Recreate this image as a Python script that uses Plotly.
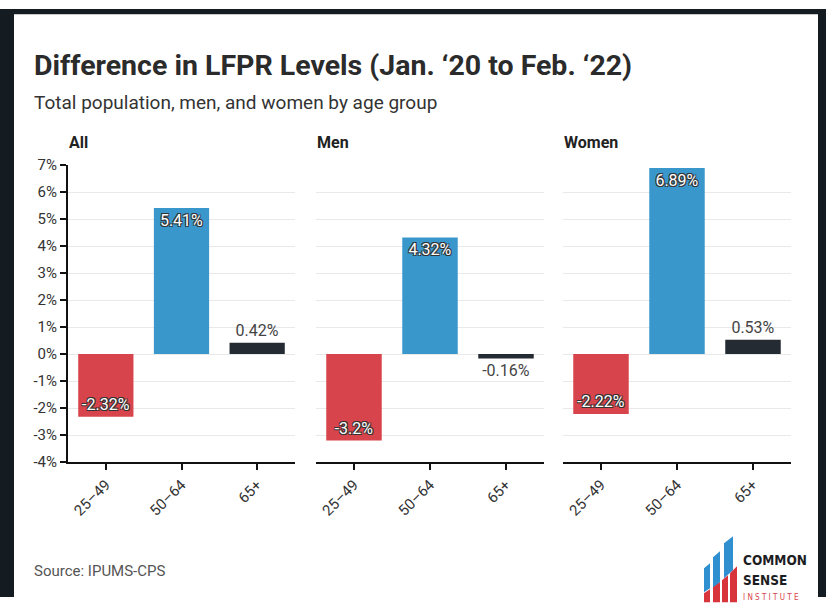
import plotly.graph_objects as go

# ---- data ----
age_groups = ["25–49", "50–64", "65+"]
panel_names = ["All", "Men", "Women"]
all_vals = [-2.32, 5.41, 0.42]
men_vals = [-3.2, 4.32, -0.16]
women_vals = [-2.22, 6.89, 0.53]
y_tick_vals = [-4, -3, -2, -1, 0, 1, 2, 3, 4, 5, 6, 7]
y_tick_text = ["-4%", "-3%", "-2%", "-1%", "0%", "1%", "2%", "3%", "4%", "5%", "6%", "7%"]
inside_flags = [[True, True, False], [True, True, False], [True, True, False]]

bar_colors = ["#d7444b", "#3a97cc", "#252b32"]
W, H = 826, 606
FONT = "Roboto, Liberation Sans, sans-serif"


def Y(y):
    # page-pixel y that lands at picture-pixel y
    return (y - 9) / 0.97


def px(x, y):
    return x / W, 1 - Y(y) / H


fig = go.Figure()

domains = [(68, 295), (316, 544), (563, 791)]
ydom = [px(0, 462)[1], px(0, 165)[1]]

series = [all_vals, men_vals, women_vals]
outline = "-1px -1px 0 #333, 1px -1px 0 #333, -1px 1px 0 #333, 1px 1px 0 #333"

for i, vals in enumerate(series):
    sfx = "" if i == 0 else str(i + 1)
    fig.add_trace(go.Bar(
        x=age_groups, y=vals,
        text=[f"{v}%" for v in vals],
        textposition=["inside" if f else "outside" for f in inside_flags[i]],
        insidetextanchor="end",
        constraintext="none",
        cliponaxis=False,
        marker=dict(color=bar_colors, line=dict(width=0)),
        insidetextfont=dict(family=FONT, size=16, color="#ffffff", shadow=outline),
        outsidetextfont=dict(family=FONT, size=16, color="#444444"),
        xaxis="x" + sfx, yaxis="y" + sfx,
        showlegend=False, hoverinfo="skip",
    ))
    d0, d1 = domains[i]
    fig.layout["xaxis" + sfx] = dict(
        domain=[d0 / W, d1 / W], anchor="y" + sfx,
        showline=True, linecolor="#111111", linewidth=2,
        ticks="outside", ticklen=6, tickwidth=1.5, tickcolor="#111111",
        tickangle=-45, tickfont=dict(family=FONT, size=15, color="#333333"),
        showgrid=False, fixedrange=True,
    )
    ycfg = dict(
        domain=ydom, anchor="x" + sfx, range=[-4, 7],
        tickvals=y_tick_vals, ticktext=y_tick_text,
        showgrid=True, gridcolor="#e9e9e9", gridwidth=1,
        zeroline=False, fixedrange=True,
    )
    if i == 0:
        ycfg.update(showline=True, linecolor="#111111", linewidth=2,
                    ticks="outside", ticklen=6, tickwidth=1.5, tickcolor="#111111",
                    tickfont=dict(family=FONT, size=15, color="#333333"))
    else:
        ycfg.update(showline=False, showticklabels=False, ticks="", matches="y")
    fig.layout["yaxis" + sfx] = ycfg

fig.update_layout(bargap=0.27)

ann = []
x0 = 32 / W
ann.append(dict(text="<b>Difference in LFPR Levels (Jan. ‘20 to Feb. ‘22)</b>",
                x=x0, y=px(0, 65)[1], xref="paper", yref="paper",
                xanchor="left", yanchor="middle", showarrow=False,
                font=dict(family="Roboto, sans-serif", size=28.5, color="#2b2b2b")))
ann.append(dict(text="Total population, men, and women by age group",
                x=x0, y=px(0, 102)[1], xref="paper", yref="paper",
                xanchor="left", yanchor="middle", showarrow=False,
                font=dict(family=FONT, size=19, color="#333333")))
for i, name in enumerate(panel_names):
    ann.append(dict(text=f"<b>{name}</b>", x=(domains[i][0] - 1) / W, y=px(0, 142)[1],
                    xref="paper", yref="paper", xanchor="left", yanchor="middle",
                    showarrow=False, font=dict(family=FONT, size=16, color="#222222")))
ann.append(dict(text="Source: IPUMS-CPS", x=x0, y=px(0, 571)[1], xref="paper", yref="paper",
                xanchor="left", yanchor="middle", showarrow=False,
                font=dict(family=FONT, size=15, color="#555555")))
LOGO_FONT = "Liberation Sans Narrow, DejaVu Sans Condensed, sans-serif"
ann.append(dict(text="<b>COMMON</b>", x=741 / W, y=px(0, 560)[1], xref="paper", yref="paper",
                xanchor="left", yanchor="middle", showarrow=False,
                font=dict(family=LOGO_FONT, size=13.5, color="#1d1d1f")))
ann.append(dict(text="<b>SENSE</b>", x=741 / W, y=px(0, 580)[1], xref="paper", yref="paper",
                xanchor="left", yanchor="middle", showarrow=False,
                font=dict(family=LOGO_FONT, size=13.5, color="#1d1d1f")))
ann.append(dict(text="I N S T I T U T E", x=741 / W, y=px(0, 597)[1], xref="paper", yref="paper",
                xanchor="left", yanchor="middle", showarrow=False,
                font=dict(family=LOGO_FONT, size=8, color="#d7444b")))
fig.update_layout(annotations=ann)

shapes = []
dark = "#141b21"


def rect(xa, ya, xb, yb, color):
    (ax, ay), (bx, by) = px(xa, ya), px(xb, yb)
    return dict(type="rect", xref="paper", yref="paper",
                x0=ax, x1=bx, y0=max(by, 0), y1=min(ay, 1),
                fillcolor=color, line=dict(width=0), layer="above")


def poly(points, color):
    p = " L ".join(f"{px(a, b)[0]:.5f},{px(a, b)[1]:.5f}" for a, b in points)
    return dict(type="path", xref="paper", yref="paper", path="M " + p + " Z",
                fillcolor=color, line=dict(width=0), layer="above")


shapes.append(rect(0, 0, W, 14, dark))
shapes.append(rect(0, 0, 14, 620, dark))
shapes.append(rect(818, 0, W, 620, dark))
shapes.append(rect(14, 14, 818, 15, "#c8c8c8"))

blue = "#2f8fcf"
red = "#d7343b"
shapes.append(poly([(704, 568), (710, 563), (710, 588), (704, 592)], blue))
shapes.append(poly([(713, 557), (720, 551), (720, 582), (713, 588)], blue))
shapes.append(poly([(724, 543), (733, 536), (733, 570), (724, 578)], blue))
shapes.append(poly([(704, 593), (710, 589), (710, 602), (704, 602)], red))
shapes.append(poly([(713, 587), (720, 582), (720, 602), (713, 602)], red))
shapes.append(poly([(722, 580), (728, 575), (728, 602), (722, 602)], red))
shapes.append(poly([(730, 573), (737, 566), (737, 602), (730, 602)], red))
fig.update_layout(shapes=shapes)

fig.update_layout(
    width=W, height=H,
    margin=dict(l=0, r=0, t=0, b=0),
    paper_bgcolor="white", plot_bgcolor="white",
    font=dict(family=FONT, color="#333333"),
)

css_js = ("var s=document.createElement('style');"
          "s.innerHTML='html,body{margin:0!important;padding:0!important;overflow:hidden!important}';"
          "document.head.appendChild(s);")
fig.write_html("out.html", config={"displayModeBar": False}, post_script=css_js)
